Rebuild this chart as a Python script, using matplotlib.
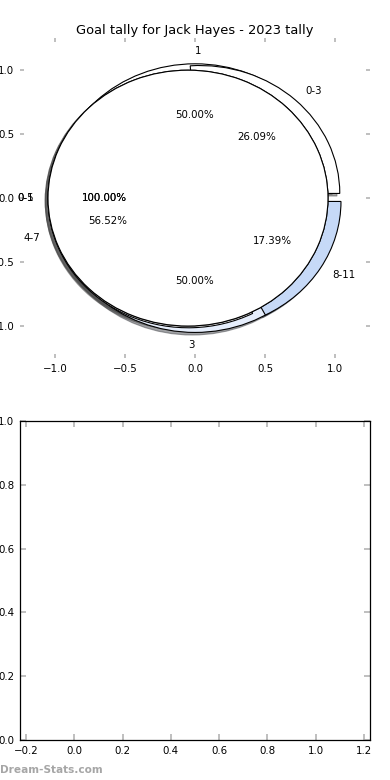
import matplotlib
matplotlib.use('Agg')
import matplotlib.pyplot as plt
import matplotlib.patches as mpatches

# ---------------- data ----------------
title = "Goal tally for Jack Hayes - 2023 tally"

goals_labels = ['1', '3']
goals_values = [1, 1]
goals_colors = ['#ffffff', '#e6eefc']

range_labels = ['0-3', '4-7', '8-11']
range_values = [6, 13, 4]
range_colors = ['#ffffff', '#ffffff', '#c6d9f7']

total_a_labels = ['0-5']
total_a_values = [1]
total_a_colors = ['#ffffff']

total_b_labels = ['0-1']
total_b_values = [1]
total_b_colors = ['#ffffff']

explode_amount = 0.05
ticks_main = [-1.0, -0.5, 0.0, 0.5, 1.0]
ticks_x2 = [-0.2, 0.0, 0.2, 0.4, 0.6, 0.8, 1.0, 1.2]
ticks_y2 = [0.0, 0.2, 0.4, 0.6, 0.8, 1.0]

# ---------------- figure ----------------
DPI = 100
fig = plt.figure(figsize=(3.9, 7.8), dpi=DPI)
ax = fig.add_axes([0.0513, 0.541, 0.8974, 0.410])
ax2 = fig.add_axes([0.0513, 0.0513, 0.8974, 0.409])

TXT = 7.4
TICKC = '#b4b4b4'
# shadow shift of 0.02 data units (Shadow scales its offset by dpi/72)
SH = -0.02 * 72.0 / DPI

pies = [
    (goals_values, goals_labels, goals_colors),
    (range_values, range_labels, range_colors),
    (total_a_values, total_a_labels, total_a_colors),
    (total_b_values, total_b_labels, total_b_colors),
]

for k, (vals, labs, cols) in enumerate(pies):
    wedges, texts, autotexts = ax.pie(
        vals, labels=labs, colors=cols, autopct='%1.2f%%',
        explode=[explode_amount] * len(vals), startangle=0,
        wedgeprops={'edgecolor': 'black', 'linewidth': 0.8},
        textprops={'fontsize': TXT})
    if k == 0:
        texts[0].set_ha('left')
        texts[1].set_ha('right')
    for w in wedges:
        ax.add_patch(mpatches.Shadow(w, SH, SH, zorder=0.9))

ax.set_aspect('auto')
ax.set_frame_on(False)
ax.set_xlim(-1.25, 1.25)
ax.set_ylim(-1.25, 1.25)
ax.set_xticks(ticks_main)
ax.set_yticks(ticks_main)
ax.tick_params(direction='in', top=True, right=True, color=TICKC,
               length=3, width=1.2, labelsize=TXT, pad=4)
ax.set_title(title, fontsize=9.4, pad=3)

ax2.set_xlim(-0.225, 1.225)
ax2.set_ylim(0, 1)
ax2.set_xticks(ticks_x2)
ax2.set_yticks(ticks_y2)
ax2.tick_params(direction='in', top=True, right=True, color=TICKC,
                length=4, width=1.2, labelsize=TXT, pad=4)
for s in ax2.spines.values():
    s.set_linewidth(0.9)

fig.text(0.0, 0.0128, 'Dream-Stats.com', ha='left', va='center',
         color='#a6a6a6', fontweight='bold', fontsize=7.6)

fig.savefig('out.png', dpi=DPI)
